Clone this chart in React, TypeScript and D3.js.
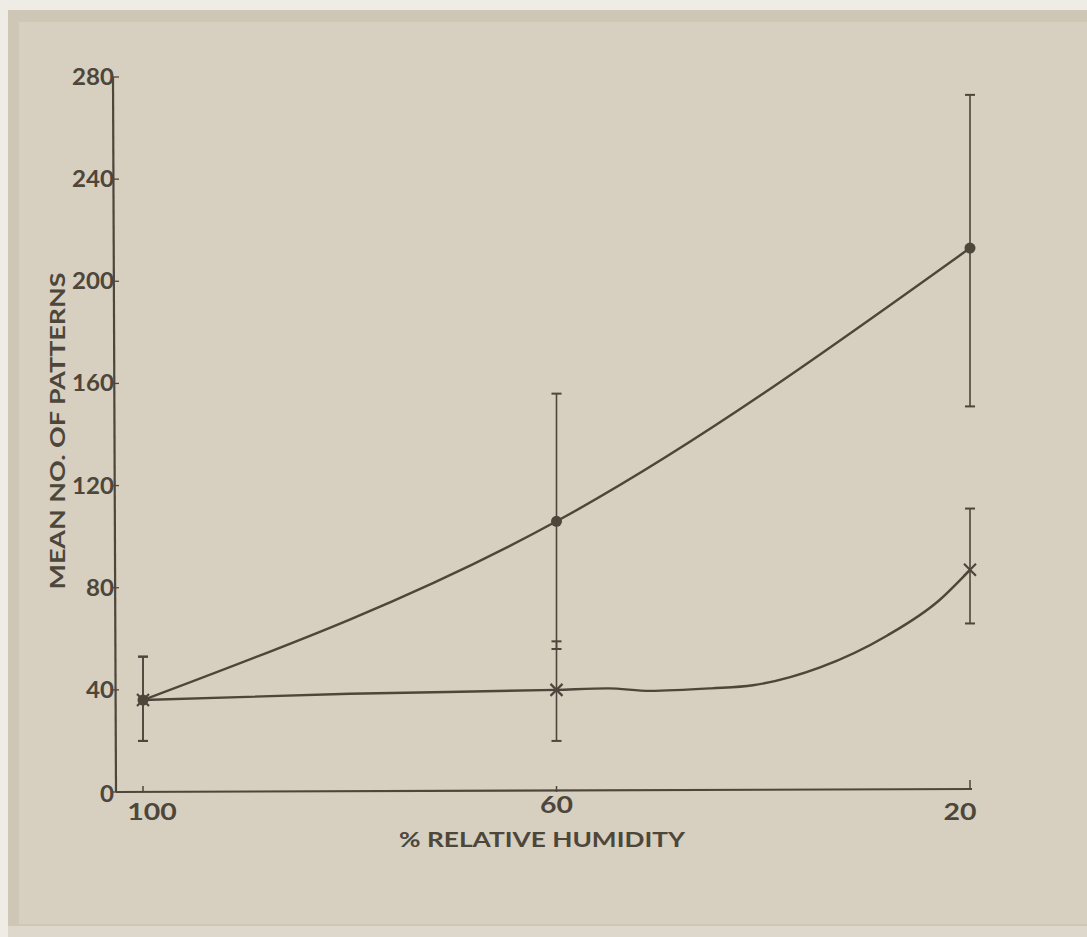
import * as d3 from "d3";
import { useEffect, useRef } from "react";

// % relative humidity (x categories)
const humidity = [100, 60, 20];

// series drawn with filled dots
const dotMean = [36, 106, 213];
const dotUpper = [53, 156, 273];
const dotLower = [20, 56, 151];

// series drawn with crosses
const crossMean = [36, 40, 87];
const crossUpper = [53, 59, 111];
const crossLower = [20, 20, 66];

// hand-drawn trend line for the cross series
const crossCurveH = [100, 80, 60, 55, 51, 45, 41, 34.5, 28, 23, 20];
const crossCurveV = [36, 38.5, 40, 40.6, 39.6, 40.6, 41.8, 48.8, 61.3, 75, 87];

const yTicks = [0, 40, 80, 120, 160, 200, 240, 280];
const xTicks = [100, 60, 20];

const W = 1087;
const H = 937;
const INK = "#4d463a";
const PAPER = "#d7cfbf";
const FONT = "Lato, 'DejaVu Sans', sans-serif";

const App = () => {
  const svgRef = useRef<SVGSVGElement>(null);

  useEffect(() => {
    const svg = d3.select(svgRef.current);
    svg.selectAll("*").remove();

    // paper
    svg.append("rect").attr("width", W).attr("height", H).attr("fill", "#efece6");
    svg.append("rect").attr("x", 8).attr("y", 10).attr("width", W - 8).attr("height", 916).attr("fill", "#cfc7b6");
    svg.append("rect").attr("x", 19).attr("y", 22).attr("width", W - 19).attr("height", 902).attr("fill", PAPER);
    svg.append("rect").attr("x", 8).attr("y", 926).attr("width", W - 8).attr("height", 11).attr("fill", "#ddd7cc");

    const x = d3.scaleLinear().domain([100, 20]).range([143, 970]);
    const y = d3.scaleLinear().domain([0, 280]).range([792, 77]);
    const x0 = 113;

    const g = svg.append("g");

    // y axis
    g.append("line")
      .attr("x1", x0).attr("x2", x0 + 3)
      .attr("y1", y(280)).attr("y2", y(0))
      .attr("stroke", INK).attr("stroke-width", 2.2);
    g.selectAll(".ytick")
      .data(yTicks)
      .enter()
      .append("line")
      .attr("x1", x0).attr("x2", x0 + 6)
      .attr("y1", (d) => y(d)).attr("y2", (d) => y(d))
      .attr("stroke", INK).attr("stroke-width", 1.3);
    g.selectAll(".ylab")
      .data(yTicks)
      .enter()
      .append("text")
      .attr("x", x0 + 1)
      .attr("y", (d) => y(d) + (d === 0 ? 10 : 8))
      .attr("text-anchor", "end")
      .attr("textLength", (d) => String(d).length * 14)
      .attr("lengthAdjust", "spacingAndGlyphs")
      .style("font-family", FONT)
      .style("font-size", "22px")
      .style("font-weight", 700)
      .attr("fill", INK)
      .text((d) => d);

    // x axis
    g.append("line")
      .attr("x1", x0 + 3).attr("x2", x(20) + 2)
      .attr("y1", y(0)).attr("y2", y(0) - 3)
      .attr("stroke", INK).attr("stroke-width", 2.2);
    g.selectAll(".xtick")
      .data(xTicks)
      .enter()
      .append("line")
      .attr("x1", (d) => x(d)).attr("x2", (d) => x(d))
      .attr("y1", (d) => y(0) - (d === 20 ? 3 : 0))
      .attr("y2", (d) => y(0) - (d === 20 ? 12 : 6))
      .attr("stroke", INK).attr("stroke-width", 1.5);
    g.selectAll(".xlab")
      .data(xTicks)
      .enter()
      .append("text")
      .attr("x", (d) => x(d) + (d === 20 ? -10 : d === 100 ? 9 : 0))
      .attr("y", (d) => (d === 60 ? 813 : 820))
      .attr("text-anchor", "middle")
      .attr("textLength", (d) => String(d).length * 16.5)
      .attr("lengthAdjust", "spacingAndGlyphs")
      .style("font-family", FONT)
      .style("font-size", "23px")
      .style("font-weight", 700)
      .attr("fill", INK)
      .text((d) => d);

    // axis titles
    g.append("text")
      .attr("x", 542).attr("y", 847)
      .attr("text-anchor", "middle")
      .attr("textLength", 286)
      .attr("lengthAdjust", "spacingAndGlyphs")
      .style("font-family", FONT)
      .style("font-size", "21px")
      .style("font-weight", 700)
      .attr("fill", INK)
      .text("% RELATIVE HUMIDITY");
    g.append("text")
      .attr("transform", "translate(65,431) rotate(-90)")
      .attr("text-anchor", "middle")
      .attr("textLength", 317)
      .attr("lengthAdjust", "spacingAndGlyphs")
      .style("font-family", FONT)
      .style("font-size", "20px")
      .style("font-weight", 700)
      .attr("fill", INK)
      .text("MEAN NO. OF PATTERNS");

    // error bars
    const bars = [
      ...humidity.map((h, i) => ({ h, lo: dotLower[i], hi: dotUpper[i] })),
      ...humidity.map((h, i) => ({ h, lo: crossLower[i], hi: crossUpper[i] })),
    ];
    bars.forEach((b) => {
      g.append("line")
        .attr("x1", x(b.h)).attr("x2", x(b.h))
        .attr("y1", y(b.hi)).attr("y2", y(b.lo))
        .attr("stroke", INK).attr("stroke-width", 1.6);
      [b.lo, b.hi].forEach((v) => {
        g.append("line")
          .attr("x1", x(b.h) - 5).attr("x2", x(b.h) + 5)
          .attr("y1", y(v)).attr("y2", y(v))
          .attr("stroke", INK).attr("stroke-width", 2);
      });
    });

    // trend lines
    const dotLine = d3
      .line<number>()
      .x((d, i) => x(humidity[i]))
      .y((d) => y(d))
      .curve(d3.curveNatural);
    g.append("path")
      .attr("d", dotLine(dotMean) as string)
      .attr("fill", "none")
      .attr("stroke", INK)
      .attr("stroke-width", 2.4);

    const crossLine = d3
      .line<number>()
      .x((d, i) => x(crossCurveH[i]))
      .y((d) => y(d))
      .curve(d3.curveMonotoneX);
    g.append("path")
      .attr("d", crossLine(crossCurveV) as string)
      .attr("fill", "none")
      .attr("stroke", INK)
      .attr("stroke-width", 2.4);

    // markers
    g.selectAll(".dot")
      .data(dotMean)
      .enter()
      .append("circle")
      .attr("cx", (d, i) => x(humidity[i]))
      .attr("cy", (d) => y(d))
      .attr("r", 5.5)
      .attr("fill", INK);

    crossMean.forEach((v, i) => {
      const cx = x(humidity[i]);
      const cy = y(v);
      const s = 6;
      g.append("path")
        .attr("d", `M${cx - s},${cy - s}L${cx + s},${cy + s}M${cx - s},${cy + s}L${cx + s},${cy - s}`)
        .attr("stroke", INK)
        .attr("stroke-width", 2.2);
    });
  }, []);

  return (
    <svg
      ref={svgRef}
      width={W}
      height={H}
      style={{ position: "absolute", left: 0, top: 0, display: "block" }}
    ></svg>
  );
};

export default App;
